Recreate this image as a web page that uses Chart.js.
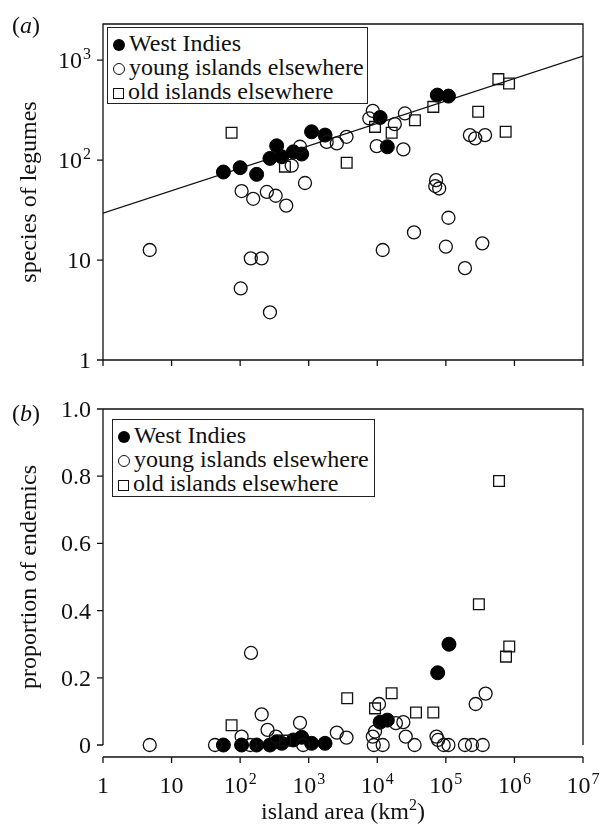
<!DOCTYPE html>
<html>
<head>
<meta charset="utf-8">
<script src="https://cdn.jsdelivr.net/npm/chart.js@4/dist/chart.umd.min.js"></script>
<style>
body{margin:0;background:#fff;width:605px;height:828px;position:relative;overflow:hidden;font-family:"Liberation Serif","Times New Roman",Times,"DejaVu Serif",serif;color:#111;}
canvas{position:absolute;left:0}
#c1{top:0}
#c2{top:380px}
.tag{position:absolute;left:12px;font-size:24px;line-height:24px}
.legend{position:absolute;box-sizing:border-box;border:1.5px solid #222;background:#fff;font-size:24px;line-height:24px;padding:3px 0 0 3px}
.legend div{white-space:nowrap}
.sym{display:inline-block;box-sizing:border-box;width:12px;height:12px;margin:0 4px 0 2px;vertical-align:0px}
.filled{background:#000;border-radius:50%}
.open{border:1.3px solid #111;border-radius:50%}
.square{border:1.3px solid #111;width:11px;height:11px}
#xtitle{position:absolute;top:798px;left:0;width:686px;text-align:center;font-size:24px}
#xtitle sup{font-size:16px;line-height:0}
</style>
</head>
<body>
<canvas id="c1" width="605" height="380"></canvas>
<canvas id="c2" width="605" height="448"></canvas>
<div class="tag" style="top:13px">(<i>a</i>)</div>
<div class="tag" style="top:401px">(<i>b</i>)</div>
<div class="legend" style="left:107px;top:27px;width:261px;height:77px">
  <div><span class="sym filled"></span>West Indies</div>
  <div><span class="sym open"></span>young islands elsewhere</div>
  <div><span class="sym square"></span>old islands elsewhere</div>
</div>
<div class="legend" style="left:112px;top:419px;width:263px;height:78px">
  <div><span class="sym filled"></span>West Indies</div>
  <div><span class="sym open"></span>young islands elsewhere</div>
  <div><span class="sym square"></span>old islands elsewhere</div>
</div>
<div id="xtitle">island area (km<sup>2</sup>)</div>
<script>
// tick values
const areaTicks = [1, 10, 100, 1000, 1e4, 1e5, 1e6, 1e7];
const speciesTicks = [1, 10, 100, 1000];
const endemicTicks = [0, 0.2, 0.4, 0.6, 0.8, 1.0];

// (a) species of legumes
const wiArea = [57, 100, 174, 272, 341, 404, 597, 790, 1100, 1730, 11000, 14000, 75000, 109000];
const wiSpecies = [76, 84, 72, 104, 139, 108, 121, 115, 192, 178, 267, 136, 447, 437];

const youngArea = [4.8, 102, 105, 143, 155, 206, 245, 272, 330, 470, 565, 746, 883, 1830, 2570, 3560,
  7650, 8600, 9800, 12000, 18000, 24000, 25300, 34300, 70000, 72000, 80000, 100000, 109000,
  190000, 224000, 268000, 340000, 373000];
const youngSpecies = [12.6, 5.2, 49, 10.4, 41, 10.4, 48, 3.0, 44, 35, 88, 136, 59, 152, 147, 171,
  261, 311, 138, 12.6, 229, 128, 293, 18.9, 55, 63, 52, 13.6, 26.5,
  8.3, 178, 165, 14.7, 178];

const oldArea = [75, 450, 3580, 9270, 16200, 35400, 65600, 296000, 583000, 745000, 834000];
const oldSpecies = [188, 86, 94, 215, 188, 251, 341, 304, 646, 192, 585];

// fitted line end points
const fitArea = [1, 1e7];
const fitSpecies = [29.5, 1100];

// (b) proportion of endemics
const wiAreaB = [57, 105, 174, 272, 341, 404, 597, 790, 1100, 1730, 11000, 14000, 76000, 111000];
const wiEndemic = [0, 0, 0, 0, 0.01, 0.005, 0.015, 0.023, 0.005, 0.005, 0.068, 0.074, 0.215, 0.30];

const youngAreaB = [4.8, 43, 105, 140, 144, 206, 251, 333, 746, 830, 2570, 3560, 8600, 8900, 9270,
  10600, 12000, 18700, 24000, 26000, 35000, 73000, 77000, 93000, 109000, 190000, 240000, 272000,
  345000, 380000];
const youngEndemic = [0, 0, 0.025, 0, 0.274, 0.091, 0.045, 0.025, 0.066, 0, 0.037, 0.022, 0.025, 0, 0.04,
  0.122, 0, 0.065, 0.068, 0.025, 0, 0.025, 0.015, 0, 0, 0, 0, 0.122,
  0, 0.153];

const oldAreaB = [75, 450, 3640, 9270, 16200, 36700, 65600, 303000, 596000, 753000, 840000];
const oldEndemic = [0.059, 0.013, 0.139, 0.109, 0.154, 0.097, 0.097, 0.419, 0.786, 0.263, 0.293];

const INK = '#111';
const FONT = '"Liberation Serif", "Times New Roman", Times, "DejaVu Serif", serif';

function pts(xs, ys) {
    return xs.map((x, i) => ({ x: x, y: ys[i] }));
}

function markers(wx, wy, yx, yy, ox, oy) {
    return [
        { data: pts(yx, yy), pointStyle: 'circle', pointRadius: 6.5, backgroundColor: 'rgba(0,0,0,0)', borderColor: INK, borderWidth: 1.3 },
        { data: pts(ox, oy), pointStyle: 'rect', pointRadius: 7.6, backgroundColor: 'rgba(0,0,0,0)', borderColor: INK, borderWidth: 1.3 },
        { data: pts(wx, wy), pointStyle: 'circle', pointRadius: 7, backgroundColor: '#000', borderColor: '#000', borderWidth: 1 }
    ];
}

// label like 10^n with a raised exponent
function powLabel(ctx, v) {
    if (v < 100) return [String(v), ''];
    return ['10', String(Math.round(Math.log10(v)))];
}

function drawLabel(ctx, x, y, parts, align) {
    ctx.font = '24px ' + FONT;
    const wb = ctx.measureText(parts[0]).width;
    ctx.font = '16px ' + FONT;
    const we = parts[1] ? ctx.measureText(parts[1]).width + 1 : 0;
    const total = wb + we;
    let sx = align === 'right' ? x - total : x - total / 2;
    ctx.textAlign = 'left';
    ctx.textBaseline = 'alphabetic';
    ctx.font = '24px ' + FONT;
    ctx.fillText(parts[0], sx, y + 8);
    if (parts[1]) {
        ctx.font = '16px ' + FONT;
        ctx.fillText(parts[1], sx + wb + 1, y - 1);
    }
}

// axes frame, tick marks and labels
const framePlugin = {
    id: 'frame',
    afterDatasetsDraw(chart, args, opts) {
        const { ctx, chartArea: a, scales: { x, y } } = chart;
        ctx.save();
        ctx.strokeStyle = INK;
        ctx.lineWidth = 1.3;
        ctx.beginPath();
        if (opts.open) {
            const y0 = y.getPixelForValue(0);
            ctx.moveTo(a.left, y0); ctx.lineTo(a.left, a.top); ctx.lineTo(a.right, a.top); ctx.lineTo(a.right, y0);
            ctx.moveTo(a.left, a.bottom); ctx.lineTo(a.right, a.bottom);
        } else {
            ctx.rect(a.left, a.top, a.right - a.left, a.bottom - a.top);
        }
        areaTicks.forEach(v => {
            const px = x.getPixelForValue(v);
            ctx.moveTo(px, a.bottom); ctx.lineTo(px, a.bottom + 6);
        });
        opts.yTicks.forEach(v => {
            const py = y.getPixelForValue(v);
            ctx.moveTo(a.left, py); ctx.lineTo(a.left - 6, py);
        });
        ctx.stroke();

        ctx.fillStyle = INK;
        opts.yTicks.forEach(v => {
            const py = y.getPixelForValue(v);
            const parts = opts.log ? powLabel(ctx, v) : [v === 0 ? '0' : v.toFixed(1), ''];
            drawLabel(ctx, 91, py, parts, 'right');
        });
        if (opts.xLabels) {
            areaTicks.forEach(v => {
                drawLabel(ctx, x.getPixelForValue(v), a.bottom + 28, powLabel(ctx, v), 'center');
            });
        }
        // y title
        ctx.font = '24px ' + FONT;
        ctx.textAlign = 'center';
        ctx.textBaseline = 'middle';
        ctx.translate(30, opts.titleY);
        ctx.rotate(-Math.PI / 2);
        ctx.fillText(opts.title, 0, 0);
        ctx.restore();
    }
};

function baseOptions(yScale, pad, xHeight, frameOpts) {
    return {
        responsive: false,
        animation: false,
        events: [],
        layout: { padding: pad },
        plugins: { legend: { display: false }, tooltip: { enabled: false }, frame: frameOpts },
        scales: {
            x: {
                type: 'logarithmic', min: 1, max: 1e7,
                afterBuildTicks: s => { s.ticks = areaTicks.map(v => ({ value: v })); },
                ticks: { display: false },
                grid: { display: false },
                border: { display: false },
                afterFit: s => { s.height = xHeight; }
            },
            y: Object.assign({
                ticks: { display: false },
                grid: { display: false },
                border: { display: false },
                afterFit: s => { s.width = 103; }
            }, yScale)
        }
    };
}

// PANEL (a)
const dsA = markers(wiArea, wiSpecies, youngArea, youngSpecies, oldArea, oldSpecies);
dsA.push({ type: 'line', data: pts(fitArea, fitSpecies), borderColor: INK, borderWidth: 1.3, pointRadius: 0, fill: false });
new Chart(document.getElementById('c1'), {
    type: 'scatter',
    data: { datasets: dsA },
    options: baseOptions(
        { type: 'logarithmic', min: 1, max: 2300, afterBuildTicks: s => { s.ticks = speciesTicks.map(v => ({ value: v })); } },
        { top: 24, right: 22, left: 0, bottom: 0 }, 20,
        { yTicks: speciesTicks, log: true, xLabels: false, title: 'species of legumes', titleY: 192 }
    ),
    plugins: [framePlugin]
});

// PANEL (b)
new Chart(document.getElementById('c2'), {
    type: 'scatter',
    data: { datasets: markers(wiAreaB, wiEndemic, youngAreaB, youngEndemic, oldAreaB, oldEndemic) },
    options: baseOptions(
        { type: 'linear', min: -0.0357, max: 1.0, afterBuildTicks: s => { s.ticks = endemicTicks.map(v => ({ value: v })); } },
        { top: 29, right: 22, left: 0, bottom: 0 }, 71,
        { yTicks: endemicTicks, log: false, xLabels: true, open: true, title: 'proportion of endemics', titleY: 197 }
    ),
    plugins: [framePlugin]
});
</script>
</body>
</html>
